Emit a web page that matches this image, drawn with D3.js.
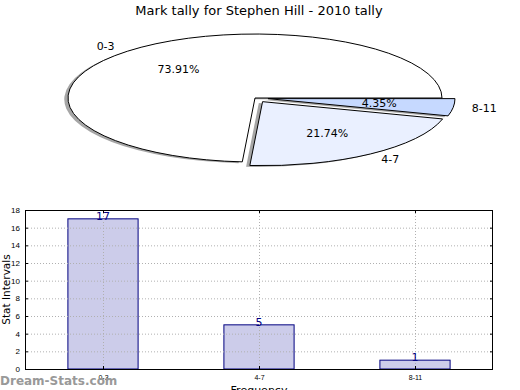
<!DOCTYPE html>
<html>
<head>
<meta charset="utf-8">
<script src="https://cdn.jsdelivr.net/npm/d3@7"></script>
<style>
  body { margin: 0; background: #fff; }
  svg { font-family: "DejaVu Sans", sans-serif; }
</style>
</head>
<body>
<svg id="chart" width="520" height="390"></svg>
<script>
// chart data
const categories = ['0-3', '4-7', '8-11'];
const counts = [17, 5, 1];
const sliceColors = ['#ffffff', '#eaf0ff', '#c6d9ff'];
const explode = [0, 0.07, 0.07];
const yTicks = [0, 2, 4, 6, 8, 10, 12, 14, 16, 18];

const svg = d3.select('#chart');

// title
svg.append('text')
    .attr('x', 259).attr('y', 15)
    .attr('text-anchor', 'middle')
    .style('font-size', '13px')
    .text('Mark tally for Stephen Hill - 2010 tally');

// ---------- pie (matplotlib style, stretched to an ellipse) ----------
const pie = { cx: 255, cy: 98, rx: 187, ry: 64 };
const total = d3.sum(counts);
const layout = d3.pie().sort(null)(counts);

// matplotlib angle (ccw from 3 o'clock) -> d3 angle (cw from 12 o'clock)
const slices = layout.map((d, i) => {
  const t0 = d.startAngle, t1 = d.endAngle;
  const mid = (t0 + t1) / 2;
  return {
    i, value: d.value,
    startAngle: Math.PI / 2 - t0,
    endAngle: Math.PI / 2 - t1,
    mid,
    dx: explode[i] * Math.cos(mid),
    dy: -explode[i] * Math.sin(mid)
  };
});

const arc = d3.arc().innerRadius(0).outerRadius(1);
const pieG = svg.append('g')
    .attr('transform', `translate(${pie.cx},${pie.cy}) scale(${pie.rx},${pie.ry})`);

// shadows first, beneath all wedges
pieG.selectAll('.shadow')
  .data(slices)
  .join('path')
    .attr('class', 'shadow')
    .attr('transform', d => `translate(${d.dx - 0.02},${d.dy + 0.02})`)
    .attr('d', arc)
    .attr('fill', '#4d4d4d')
    .attr('fill-opacity', 0.5);

pieG.selectAll('.wedge')
  .data(slices)
  .join('path')
    .attr('class', 'wedge')
    .attr('transform', d => `translate(${d.dx},${d.dy})`)
    .attr('d', arc)
    .attr('fill', d => sliceColors[d.i])
    .attr('stroke', '#000')
    .attr('stroke-width', 1)
    .attr('vector-effect', 'non-scaling-stroke')
    .attr('stroke-linejoin', 'miter');

const px = (d, r) => pie.cx + pie.rx * (r + explode[d.i]) * Math.cos(d.mid);
const py = (d, r) => pie.cy - pie.ry * (r + explode[d.i]) * Math.sin(d.mid);

svg.selectAll('.pie-label')
  .data(slices)
  .join('text')
    .attr('class', 'pie-label')
    .attr('x', d => px(d, 1.1))
    .attr('y', d => py(d, 1.1))
    .attr('text-anchor', d => Math.cos(d.mid) > 0 ? 'start' : 'end')
    .attr('dominant-baseline', 'central')
    .style('font-size', '11px')
    .text(d => categories[d.i]);

svg.selectAll('.pie-pct')
  .data(slices)
  .join('text')
    .attr('class', 'pie-pct')
    .attr('x', d => px(d, 0.6))
    .attr('y', d => py(d, 0.6))
    .attr('text-anchor', 'middle')
    .attr('dominant-baseline', 'central')
    .style('font-size', '11px')
    .text(d => (d.value / total * 100).toFixed(2) + '%');

// ---------- bar chart ----------
const box = { left: 25, right: 493, top: 210, bottom: 369 };
const x = d3.scaleLinear().domain([-0.5, categories.length - 0.5]).range([box.left, box.right]);
const y = d3.scaleLinear().domain([0, 18]).range([box.bottom, box.top]);
const barWidth = 0.45;

const grid = svg.append('g');
grid.selectAll('.hgrid')
  .data(yTicks.slice(1, -1))
  .join('line')
    .attr('x1', box.left).attr('x2', box.right)
    .attr('y1', d => y(d) + 0.5).attr('y2', d => y(d) + 0.5)
    .attr('stroke', '#b0b0b0').attr('stroke-dasharray', '1,2');

svg.selectAll('.bar')
  .data(counts)
  .join('rect')
    .attr('class', 'bar')
    .attr('x', (d, i) => x(i - barWidth / 2))
    .attr('y', d => y(d))
    .attr('width', x(barWidth) - x(0))
    .attr('height', d => y(0) - y(d))
    .attr('fill', '#ccccea')
    .attr('stroke', '#000080')
    .attr('stroke-width', 1);

grid.raise();
grid.selectAll('.vgrid')
  .data(categories)
  .join('line')
    .attr('x1', (d, i) => x(i) + 0.5).attr('x2', (d, i) => x(i) + 0.5)
    .attr('y1', box.top).attr('y2', box.bottom)
    .attr('stroke', '#b0b0b0').attr('stroke-dasharray', '1,2');

// bar value labels
svg.selectAll('.bar-label')
  .data(counts)
  .join('text')
    .attr('x', (d, i) => x(i))
    .attr('y', d => y(d) + 1)
    .attr('text-anchor', 'middle')
    .attr('fill', '#000080')
    .style('font-size', '11px')
    .text(d => d);

// frame
svg.append('rect')
    .attr('x', box.left + 0.5).attr('y', box.top + 0.5)
    .attr('width', box.right - box.left - 1).attr('height', box.bottom - box.top)
    .attr('fill', 'none').attr('stroke', '#000');

// y axis ticks
const yAxis = svg.append('g').attr('transform', `translate(${box.left},0)`)
    .call(d3.axisLeft(y).tickValues(yTicks).tickSize(-3).tickPadding(5));
yAxis.select('.domain').remove();
yAxis.selectAll('text').style('font-size', '8px').attr('font-family', null);
svg.append('g').attr('transform', `translate(${box.right},0)`)
    .call(d3.axisRight(y).tickValues(yTicks).tickSize(-3).tickFormat(''))
    .select('.domain').remove();

// x axis ticks
const xAxis = svg.append('g').attr('transform', `translate(0,${box.bottom})`)
    .call(d3.axisBottom(x).tickValues(d3.range(categories.length))
      .tickFormat(i => categories[i]).tickSize(-3).tickPadding(6));
xAxis.select('.domain').remove();
xAxis.selectAll('text').style('font-size', '7px').attr('font-family', null);
svg.append('g').attr('transform', `translate(0,${box.top})`)
    .call(d3.axisTop(x).tickValues(d3.range(categories.length)).tickSize(-3).tickFormat(''))
    .select('.domain').remove();

// axis titles
svg.append('text')
    .attr('transform', `translate(5.5,${(box.top + box.bottom) / 2}) rotate(-90)`)
    .attr('text-anchor', 'middle')
    .attr('dominant-baseline', 'central')
    .style('font-size', '10.5px')
    .text('Stat Intervals');

svg.append('text')
    .attr('x', (box.left + box.right) / 2).attr('y', 394)
    .attr('text-anchor', 'middle')
    .style('font-size', '11px')
    .text('Frequency');

// watermark
svg.append('text')
    .attr('x', 0).attr('y', 385)
    .attr('fill', '#999')
    .style('font-size', '12px')
    .style('font-weight', 'bold')
    .text('Dream-Stats.com');
</script>
</body>
</html>
